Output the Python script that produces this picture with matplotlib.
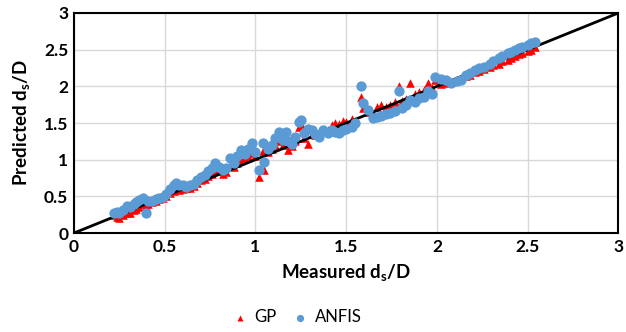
import matplotlib
matplotlib.use("Agg")
from matplotlib import pyplot as plt

plt.rcParams['font.family'] = ['Lato', 'DejaVu Sans']
plt.rcParams['mathtext.fontset'] = 'custom'
plt.rcParams['mathtext.rm'] = 'Lato'
plt.rcParams['mathtext.bf'] = 'Lato:bold'

# measured ds/D and the two model predictions
measured = [0.22, 0.24, 0.25, 0.27, 0.29, 0.31, 0.33, 0.34, 0.36, 0.38,
            0.40, 0.41, 0.43, 0.45, 0.47, 0.49, 0.51, 0.53, 0.55, 0.56,
            0.58, 0.60, 0.62, 0.64, 0.66, 0.68, 0.70, 0.72, 0.74, 0.76,
            0.78, 0.80, 0.82, 0.84, 0.86, 0.88, 0.90, 0.92, 0.94, 0.96,
            0.98, 1.00, 1.02, 1.04, 1.05, 1.07, 1.09, 1.11, 1.13, 1.15,
            1.17, 1.18, 1.20, 1.22, 1.24, 1.25, 1.27, 1.29, 1.31, 1.33,
            1.35, 1.37, 1.40, 1.42, 1.44, 1.46, 1.48, 1.50, 1.53, 1.55,
            1.58, 1.59, 1.62, 1.645, 1.67, 1.69, 1.72, 1.74, 1.77, 1.79,
            1.81, 1.83, 1.85, 1.88, 1.90, 1.93, 1.95, 1.97, 1.99, 2.02,
            2.05, 2.08, 2.11, 2.13, 2.16, 2.18, 2.21, 2.23, 2.26, 2.29,
            2.31, 2.34, 2.36, 2.39, 2.41, 2.43, 2.45, 2.47, 2.50, 2.52,
            2.54]
anfis = [0.27, 0.29, 0.27, 0.31, 0.37, 0.36, 0.40, 0.43, 0.45, 0.48,
         0.28, 0.44, 0.44, 0.46, 0.48, 0.49, 0.53, 0.60, 0.65, 0.68,
         0.66, 0.65, 0.63, 0.65, 0.67, 0.72, 0.77, 0.79, 0.84, 0.88,
         0.95, 0.90, 0.86, 0.88, 1.02, 0.95, 1.05, 1.13, 1.08, 1.15,
         1.23, 1.10, 0.86, 1.23, 0.97, 1.15, 1.20, 1.30, 1.38, 1.27,
         1.38, 1.25, 1.22, 1.31, 1.52, 1.54, 1.36, 1.42, 1.40, 1.35,
         1.31, 1.40, 1.36, 1.40, 1.38, 1.37, 1.40, 1.42, 1.45, 1.50,
         2.00, 1.77, 1.68, 1.57, 1.58, 1.60, 1.62, 1.63, 1.66, 1.93,
         1.70, 1.75, 1.82, 1.79, 1.84, 1.86, 1.93, 1.90, 2.13, 2.10,
         2.08, 2.04, 2.07, 2.09, 2.15, 2.18, 2.22, 2.25, 2.27, 2.31,
         2.34, 2.38, 2.41, 2.45, 2.47, 2.50, 2.52, 2.54, 2.56, 2.59,
         2.61]
gp = [0.24, 0.22, 0.20, 0.24, 0.27, 0.28, 0.31, 0.33, 0.36, 0.40,
      0.37, 0.40, 0.42, 0.44, 0.46, 0.48, 0.50, 0.55, 0.58, 0.60,
      0.59, 0.60, 0.61, 0.62, 0.64, 0.68, 0.72, 0.74, 0.78, 0.80,
      0.85, 0.85, 0.80, 0.83, 0.92, 0.90, 0.95, 1.00, 1.02, 1.05,
      1.09, 1.05, 0.77, 1.12, 0.86, 1.10, 1.15, 1.20, 1.25, 1.20,
      1.28, 1.13, 1.18, 1.25, 1.45, 1.48, 1.30, 1.22, 1.35, 1.33,
      1.36, 1.40, 1.40, 1.47, 1.50, 1.48, 1.53, 1.52, 1.55, 1.53,
      1.86, 1.70, 1.65, 1.62, 1.72, 1.74, 1.72, 1.75, 1.78, 2.00,
      1.80, 1.83, 2.04, 1.90, 1.92, 1.95, 2.05, 1.98, 2.08, 2.03,
      2.04, 2.06, 2.09, 2.11, 2.14, 2.16, 2.19, 2.21, 2.23, 2.26,
      2.29, 2.31, 2.34, 2.36, 2.39, 2.42, 2.44, 2.45, 2.48, 2.50,
      2.53]
ticks = [0, 0.5, 1, 1.5, 2, 2.5, 3]
tickLabels = ['0', '0.5', '1', '1.5', '2', '2.5', '3']

fig = plt.figure(figsize=(6.26, 3.32), dpi=100)
ax = fig.add_axes([0.118, 0.298, 0.870, 0.663])

ax.scatter(measured, gp, marker='^', s=38, color='#ff0000', linewidths=0,
           label='GP', zorder=2)
ax.plot([0, 3], [0, 3], color='black', linewidth=2, zorder=3)
ax.scatter(measured, anfis, marker='o', s=55, color='#5b9bd5', linewidths=0,
           label='ANFIS', zorder=4)

ax.set_xlim(0, 3)
ax.set_ylim(0, 3)
ax.set_xticks(ticks)
ax.set_yticks(ticks)
ax.set_xticklabels(tickLabels, fontsize=12.5, fontweight='bold')
ax.set_yticklabels(tickLabels, fontsize=12.5, fontweight='bold')
ax.tick_params(length=0, pad=4)
ax.grid(True, color='#d9d9d9', linewidth=1)
ax.set_axisbelow(True)
for sp in ax.spines.values():
    sp.set_color('black')
    sp.set_linewidth(1.5)

ax.set_xlabel('Measured d$_\\mathbf{s}$/D', fontsize=13.5, fontweight='bold', labelpad=6)
ax.set_ylabel('Predicted d$_\\mathbf{s}$/D', fontsize=13.5, fontweight='bold', labelpad=8)

fig.legend(loc='center', bbox_to_anchor=(0.474, 0.045), ncol=2, frameon=False,
           fontsize=12, handlelength=1.0, handletextpad=0.4, columnspacing=0.9,
           markerscale=0.7)

fig.savefig('out.png', dpi=100)
